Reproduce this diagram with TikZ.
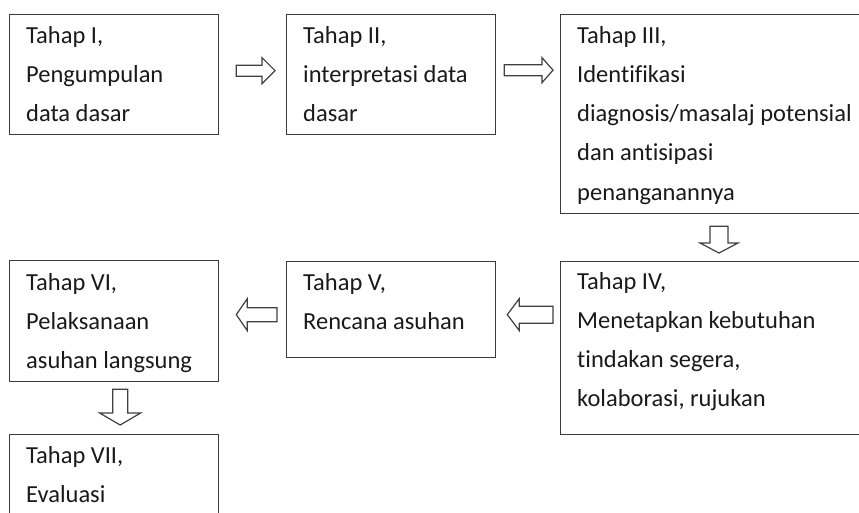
\documentclass[tikz,border=0pt]{standalone}
\usepackage{fontspec}
\setmainfont[Ligatures=NoCommon]{Carlito}
\usetikzlibrary{calc}
\definecolor{boxline}{HTML}{3A3A3A}
\definecolor{arrline}{HTML}{404040}
\definecolor{txtcol}{HTML}{1A1A1A}
\tikzset{
  stagebox/.style={draw=boxline, line width=1.3pt, rectangle, inner sep=0pt, anchor=north west, fill=none},
  stagetxt/.style={inner sep=0pt, anchor=base west, text=txtcol, font=\fontsize{24.5}{39.3}\selectfont},
  arrowline/.style={draw=arrline, line width=1.2pt, fill=white, line join=miter},
}
% #1 from, #2 to, #3 shaft half-width, #4 head half-width, #5 head length
\newcommand\blockarrow[5]{%
  \draw[arrowline] let \p1=(#1), \p2=(#2),
    \n1={veclen(\x2-\x1,\y2-\y1)}, \n2={(\x2-\x1)/\n1}, \n3={(\y2-\y1)/\n1},
    \p3=($(\p2)!#5pt!(\p1)$) in
    ({\x1-#3*(\n3)},{\y1+#3*(\n2)}) -- ({\x3-#3*(\n3)},{\y3+#3*(\n2)}) --
    ({\x3-#4*(\n3)},{\y3+#4*(\n2)}) -- (\p2) --
    ({\x3+#4*(\n3)},{\y3-#4*(\n2)}) -- ({\x3+#3*(\n3)},{\y3-#3*(\n2)}) --
    ({\x1+#3*(\n3)},{\y1-#3*(\n2)}) -- cycle;
}
\begin{document}
\begin{tikzpicture}[x=1pt,y=-1pt]
\useasboundingbox (0,0) rectangle (859,512);
\clip (0,0) rectangle (859,512);
\fill[white] (0,0) rectangle (859,512);

% boxes
\node[stagebox, minimum width=209pt, minimum height=120pt] (b1) at (9,14) {};
\node[stagebox, minimum width=209pt, minimum height=120pt] (b2) at (286,14) {};
\node[stagebox, minimum width=330pt, minimum height=199pt] (b3) at (560,14) {};
\node[stagebox, minimum width=330pt, minimum height=173pt] (b4) at (560,261) {};
\node[stagebox, minimum width=209pt, minimum height=96pt] (b5) at (286,261) {};
\node[stagebox, minimum width=209pt, minimum height=121pt] (b6) at (9,260) {};
\node[stagebox, minimum width=209pt, minimum height=110pt] (b7) at (9,434) {};

% texts
\node[stagetxt] (t1) at ($(b1.north west)+(17,29)$) {\parbox[t]{300pt}{Tahap I,\\Pengumpulan\\data dasar}};
\node[stagetxt] (t2) at ($(b2.north west)+(17,29)$) {\parbox[t]{300pt}{Tahap II,\\interpretasi data\\dasar}};
\node[stagetxt] (t3) at ($(b3.north west)+(17,29)$) {\parbox[t]{320pt}{Tahap III,\\Identifikasi\\diagnosis/masalaj potensial\\dan antisipasi\\penanganannya}};
\node[stagetxt] (t4) at ($(b4.north west)+(17,28)$) {\parbox[t]{320pt}{Tahap IV,\\Menetapkan kebutuhan\\tindakan segera,\\kolaborasi, rujukan}};
\node[stagetxt] (t5) at ($(b5.north west)+(17,29)$) {\parbox[t]{300pt}{Tahap V,\\Rencana asuhan}};
\node[stagetxt] (t6) at ($(b6.north west)+(17,30)$) {\parbox[t]{300pt}{Tahap VI,\\Pelaksanaan\\asuhan langsung}};
\node[stagetxt] (t7) at ($(b7.north west)+(17,29)$) {\parbox[t]{300pt}{Tahap VII,\\Evaluasi}};

% arrow end points
\coordinate (a1s) at ($(b1.east)+(17,-4)$);
\coordinate (a1e) at ($(b2.west)+(-11,-4)$);
\coordinate (a2s) at ($(b2.east)+(8,-4.5)$);
\coordinate (a2e) at ($(b3.west |- a2s)+(-7,0)$);
\coordinate (a3s) at ($(b3.south west)+(159,12)$);
\coordinate (a3e) at ($(b4.north west)+(159,-8)$);
\coordinate (a4s) at ($(b4.west |- b5.east)+(-7,5)$);
\coordinate (a4e) at ($(b5.east)+(11,5)$);
\coordinate (a5s) at ($(b5.west)+(-9,5)$);
\coordinate (a5e) at ($(b6.east |- a5s)+(17,0)$);
\coordinate (a6s) at ($(b6.south)+(6,7)$);
\coordinate (a6e) at ($(b7.north)+(6,-9)$);

% connectors (hollow block arrows)
\blockarrow{a1s}{a1e}{5.5}{13}{13}
\blockarrow{a2s}{a2e}{5.5}{12.5}{11}
\blockarrow{a3s}{a3e}{9}{19}{10}
\blockarrow{a4s}{a4e}{8.5}{16}{12}
\blockarrow{a5s}{a5e}{7}{16}{11}
\blockarrow{a6s}{a6e}{7.5}{20.5}{12}
\end{tikzpicture}
\end{document}
